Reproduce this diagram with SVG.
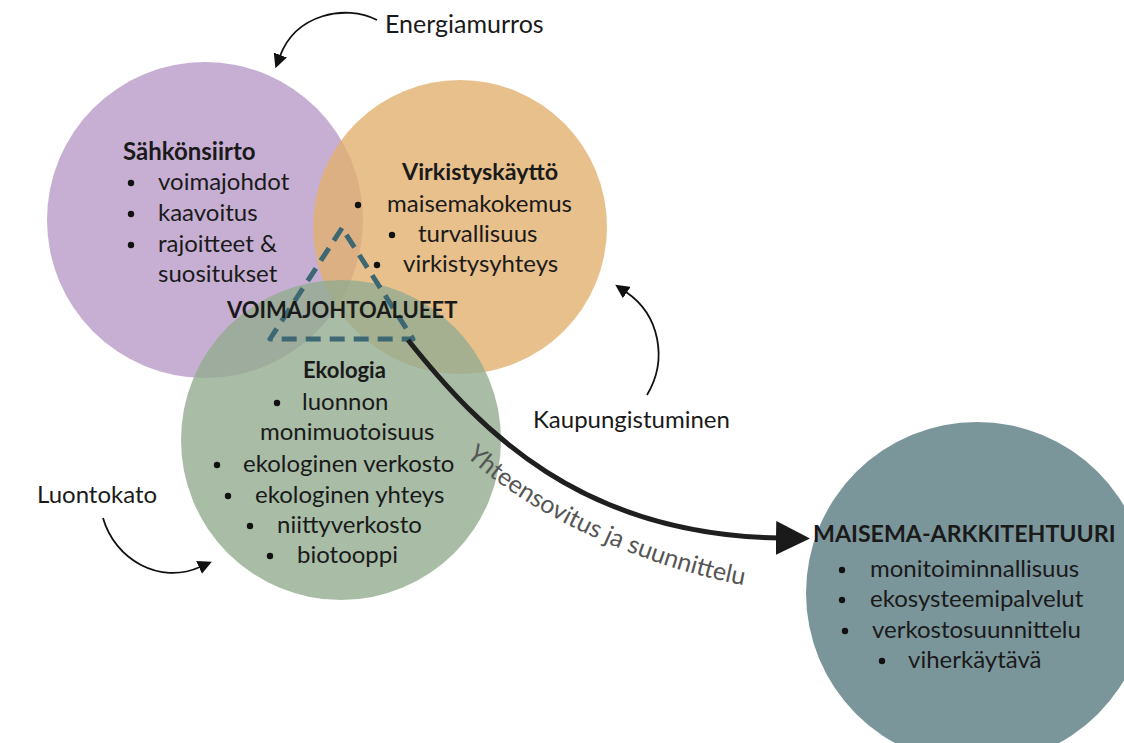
<svg xmlns="http://www.w3.org/2000/svg" width="1124" height="743" viewBox="0 0 1124 743">
<style>
.t{font-family:Lato,"Liberation Sans",sans-serif;font-size:24px;fill:#1a1a1a}
.h{font-family:Lato,"Liberation Sans",sans-serif;font-size:24px;font-weight:bold;fill:#1a1a1a}
.lab{font-family:Lato,"Liberation Sans",sans-serif;font-size:24px;fill:#1a1a1a}
.b{fill:#111}
.thin{fill:none;stroke:#111;stroke-width:1.8}
</style>
<defs>
<marker id="ah" markerUnits="userSpaceOnUse" viewBox="0 0 14 14" markerWidth="14" markerHeight="14" refX="1" refY="7" orient="auto">
<path d="M0,0 L14,7 L0,14 z" fill="#111"/>
</marker>
<marker id="big" markerUnits="userSpaceOnUse" viewBox="0 0 34 34" markerWidth="34" markerHeight="34" refX="4" refY="17" orient="auto">
<path d="M0,0 L34,17 L0,34 z" fill="#1a1a1a"/>
</marker>
</defs>
<g id="sahkonsiirto">
<circle cx="205" cy="220" r="158" fill="#c7afd3"/>
<text class="h" x="123" y="160">Sähkönsiirto</text>
<circle class="b" cx="131" cy="183" r="3.2"/>
<text class="t" x="158" y="190">voimajohdot</text>
<circle class="b" cx="131" cy="214" r="3.2"/>
<text class="t" x="158" y="221">kaavoitus</text>
<circle class="b" cx="131" cy="245" r="3.2"/>
<text class="t" x="158" y="252">rajoitteet &amp;</text>
<text class="t" x="158" y="282">suositukset</text>
</g>
<g id="virkistyskaytto">
<circle cx="460" cy="227" r="147" fill="#e2b06f" fill-opacity="0.8"/>
<text class="h" x="402" y="180" style="font-size:23.3px">Virkistyskäyttö</text>
<circle class="b" cx="358" cy="205" r="3.2"/>
<text class="t" x="387" y="212">maisemakokemus</text>
<circle class="b" cx="392" cy="235" r="3.2"/>
<text class="t" x="418" y="242">turvallisuus</text>
<circle class="b" cx="377" cy="265" r="3.2"/>
<text class="t" x="403" y="272">virkistysyhteys</text>
</g>
<g id="ekologia">
<circle cx="341" cy="440" r="160" fill="#92ab90" fill-opacity="0.8"/>
<text class="h" x="303" y="378" style="font-size:22px">Ekologia</text>
<circle class="b" cx="277" cy="403" r="3.2"/>
<text class="t" x="302" y="410">luonnon</text>
<text class="t" x="260" y="440">monimuotoisuus</text>
<circle class="b" cx="217" cy="465" r="3.2"/>
<text class="t" x="243" y="472">ekologinen verkosto</text>
<circle class="b" cx="228" cy="496" r="3.2"/>
<text class="t" x="255" y="503">ekologinen yhteys</text>
<circle class="b" cx="250" cy="526" r="3.2"/>
<text class="t" x="277" y="533">niittyverkosto</text>
<circle class="b" cx="270" cy="556" r="3.2"/>
<text class="t" x="297" y="563">biotooppi</text>
</g>
<g id="maisema-arkkitehtuuri">
<circle cx="977" cy="593" r="171" fill="#7b969b"/>
<text class="h" x="813" y="542" style="font-size:23.2px">MAISEMA-ARKKITEHTUURI</text>
<circle class="b" cx="842" cy="570" r="3.2"/>
<text class="t" x="870" y="577">monitoiminnallisuus</text>
<circle class="b" cx="842" cy="600" r="3.2"/>
<text class="t" x="870" y="607">ekosysteemipalvelut</text>
<circle class="b" cx="845" cy="631" r="3.2"/>
<text class="t" x="872" y="638">verkostosuunnittelu</text>
<circle class="b" cx="882" cy="661" r="3.2"/>
<text class="t" x="908" y="668">viherkäytävä</text>
</g>
<g id="voimajohtoalueet">
<path d="M342,228 L270,339 L413,339 Z" fill="none" stroke="#3d6772" stroke-width="5" stroke-dasharray="15,9" stroke-linejoin="round"/>
<text class="h" x="227" y="318" style="font-size:22px">VOIMAJOHTOALUEET</text>
</g>
<g id="energiamurros">
<text class="lab" x="385" y="33" style="font-size:25px">Energiamurros</text>
</g>
<g id="kaupungistuminen">
<text class="lab" x="533" y="428">Kaupungistuminen</text>
</g>
<g id="luontokato">
<text class="lab" x="37" y="503">Luontokato</text>
</g>
<g id="connectors">
<path class="thin" d="M377,20 C345,4 296,14 280,56" marker-end="url(#ah)"/>
<path class="thin" d="M647,395 C668,360 660,315 626,292" marker-end="url(#ah)"/>
<path class="thin" d="M103,518 C115,560 160,585 200,567" marker-end="url(#ah)"/>
<path id="main" d="M408,340 C480,430 580,535 780,538" fill="none" stroke="#1f1f1f" stroke-width="5" marker-end="url(#big)"/>
<path id="tp" d="M466,456 C530,516 650,571 760,588" fill="none"/>
<text style="font-family:Lato,'Liberation Sans',sans-serif;font-size:25px;fill:#555"><textPath href="#tp">Yhteensovitus ja suunnittelu</textPath></text>
</g>
</svg>
